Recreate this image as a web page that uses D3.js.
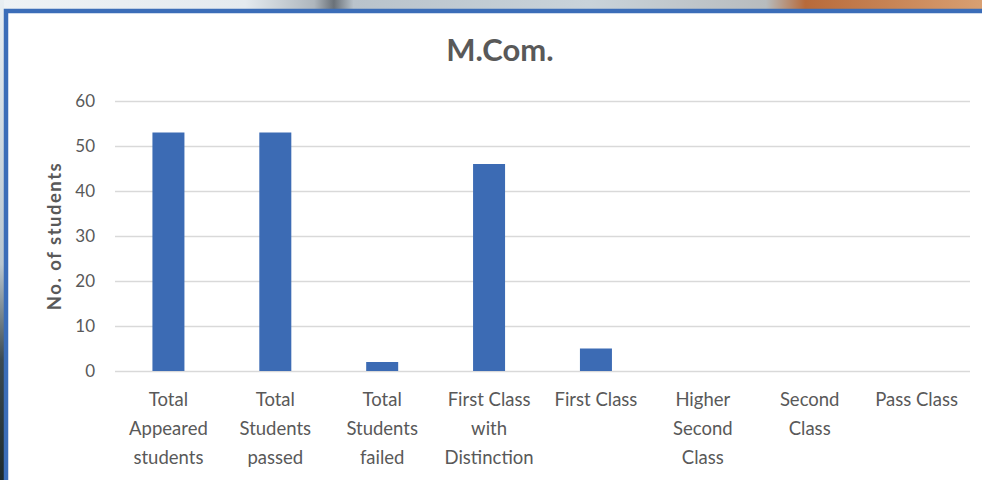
<!DOCTYPE html>
<html>
<head>
<meta charset="utf-8">
<script src="https://cdn.jsdelivr.net/npm/d3@7"></script>
<style>
  html, body { margin: 0; padding: 0; background: #ffffff; }
  svg { display: block; }
  text { font-family: Lato, "Open Sans", sans-serif; }
</style>
</head>
<body>
<svg id="chart" width="982" height="480"></svg>
<script>
// Result categories (each label split into its displayed lines)
const categories = [
  ["Total", "Appeared", "students"],
  ["Total", "Students", "passed"],
  ["Total", "Students", "failed"],
  ["First Class", "with", "Distinction"],
  ["First Class"],
  ["Higher", "Second", "Class"],
  ["Second", "Class"],
  ["Pass Class"]
];
// Number of students in each category
const studentCounts = [53, 53, 2, 46, 5, 0, 0, 0];
// Value axis ticks
const yTicks = [0, 10, 20, 30, 40, 50, 60];
const chartTitle = "M.Com.";
const yAxisTitle = "No. of students";

const svg = d3.select("#chart");
const W = 982, H = 480;
const margin = { top: 101, right: 12, bottom: 109, left: 115 };

// Backdrop strip above the chart frame
const defs = svg.append("defs");
const grad = defs.append("linearGradient").attr("id", "topStrip")
  .attr("x1", "0%").attr("x2", "100%").attr("y1", "0%").attr("y2", "0%");
[["0%", "#eef2f5"], ["25%", "#e4eaef"], ["32%", "#aeb6bd"], ["34%", "#6a7178"],
 ["36%", "#b9c3cb"], ["60%", "#c9d3da"], ["78%", "#b8bcbe"], ["82%", "#b86a3a"],
 ["100%", "#d9a072"]].forEach(([o, c]) => grad.append("stop").attr("offset", o).attr("stop-color", c));
const gradL = defs.append("linearGradient").attr("id", "leftStrip")
  .attr("x1", "0%").attr("x2", "0%").attr("y1", "0%").attr("y2", "100%");
[["0%", "#e8eef2"], ["55%", "#b9c6cf"], ["75%", "#3b4a52"], ["100%", "#1d2a2c"]]
  .forEach(([o, c]) => gradL.append("stop").attr("offset", o).attr("stop-color", c));

svg.append("rect").attr("x", 0).attr("y", 0).attr("width", W).attr("height", 10).attr("fill", "url(#topStrip)");
svg.append("rect").attr("x", 0).attr("y", 0).attr("width", 4).attr("height", H).attr("fill", "url(#leftStrip)");

// Chart frame
svg.append("rect").attr("x", 4).attr("y", 9).attr("width", W - 4).attr("height", H - 9).attr("fill", "#ffffff");
svg.append("path")
  .attr("d", `M6,${H} V11 H${W}`)
  .attr("fill", "none").attr("stroke", "#3b6db8").attr("stroke-width", 4.5);

const xOuter = d3.scaleBand()
  .domain(d3.range(categories.length))
  .range([margin.left, W - margin.right]);
const y = d3.scaleLinear().domain([0, 60]).range([H - margin.bottom, margin.top]);

// Gridlines and value ticks
const yAxis = d3.axisLeft(y).tickValues(yTicks).tickSize(-(W - margin.left - margin.right)).tickPadding(20);
const gy = svg.append("g").attr("transform", `translate(${margin.left},0)`).call(yAxis);
gy.select(".domain").remove();
gy.selectAll(".tick line").attr("stroke", "#d9d9d9").attr("stroke-width", 1.3);
gy.selectAll(".tick text").attr("fill", "#595959").style("font-size", "17px");

// Bars
svg.append("g").selectAll("rect").data(studentCounts).join("rect")
  .attr("x", (d, i) => xOuter(i) + xOuter.bandwidth() / 2 - 16)
  .attr("width", 32)
  .attr("y", d => y(d))
  .attr("height", d => y(0) - y(d))
  .attr("fill", "#3c6bb4");

// Category labels
const gx = svg.append("g");
categories.forEach((lines, i) => {
  const cx = xOuter(i) + xOuter.bandwidth() / 2;
  const t = gx.append("text")
    .attr("x", cx)
    .attr("y", 406)
    .attr("text-anchor", "middle")
    .attr("fill", "#595959")
    .style("font-size", "18.5px");
  lines.forEach((ln, k) => t.append("tspan")
    .attr("x", cx)
    .attr("y", 406 + k * 29)
    .text(ln));
});

// Title
svg.append("text").attr("x", 500).attr("y", 61).attr("text-anchor", "middle")
  .attr("fill", "#595959").style("font-size", "31px").style("font-weight", "bold")
  .text(chartTitle);

// Y axis title
svg.append("text")
  .attr("transform", `translate(61,${(y(0) + y(60)) / 2}) rotate(-90)`)
  .attr("text-anchor", "middle").attr("fill", "#595959")
  .style("font-size", "18.5px").style("font-weight", "bold")
  .style("letter-spacing", "1.5px")
  .text(yAxisTitle);
</script>
</body>
</html>
